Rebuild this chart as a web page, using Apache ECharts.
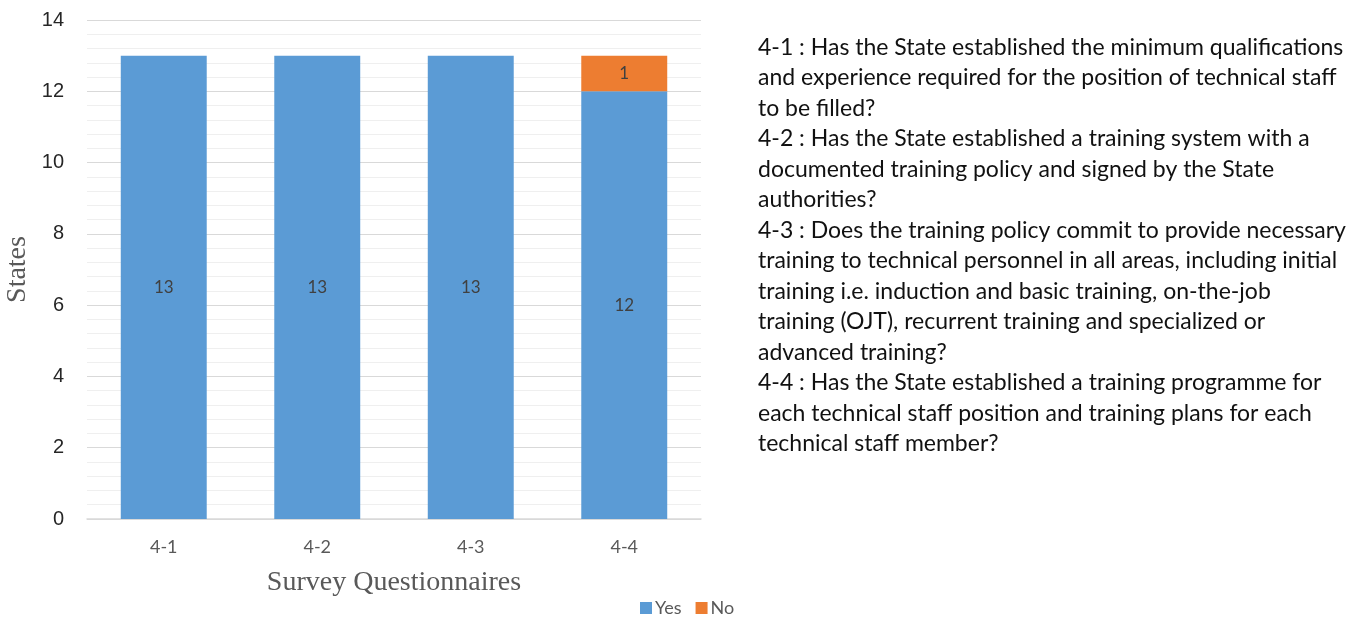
<!DOCTYPE html>
<html>
<head>
<meta charset="utf-8">
<script src="https://cdn.jsdelivr.net/npm/echarts@6/dist/echarts.min.js"></script>
<style>
  html, body { margin: 0; padding: 0; background: #fff; }
  #chart { width: 1362px; height: 619px; }
</style>
</head>
<body>
<div id="chart"></div>
<script>
// categories and counts
const questions = ['4-1', '4-2', '4-3', '4-4'];
const yesCounts = [13, 13, 13, 12];
const noCounts = [0, 0, 0, 1];

const notes = [
  '4-1 : Has the State established the minimum qualifications',
  'and experience required for the position of technical staff',
  'to be filled?',
  '4-2 : Has the State established a training system with a',
  'documented training policy and signed by the State',
  'authorities?',
  '4-3 : Does the training policy commit to provide necessary',
  'training to technical personnel in all areas, including initial',
  'training i.e. induction and basic training, on-the-job',
  'training (OJT), recurrent training and specialized or',
  'advanced training?',
  '4-4 : Has the State established a training programme for',
  'each technical staff position and training plans for each',
  'technical staff member?'
];

const chart = echarts.init(document.getElementById('chart'));

// hide the zero "No" labels
const barLabel = {
  show: true,
  position: 'inside',
  color: '#404040',
  fontSize: 17,
  fontFamily: 'Lato',
  formatter: p => (p.value ? p.value : '')
};

chart.setOption({
  animation: false,
  color: ['#5B9BD5', '#ED7D31'],
  grid: { left: 87, right: 661, top: 20, bottom: 100 },
  legend: {
    data: ['Yes', 'No'],
    left: 635,
    top: 594,
    itemWidth: 12,
    itemHeight: 12,
    itemGap: 14,
    icon: 'rect',
    textStyle: { color: '#595959', fontSize: 18, fontFamily: 'Lato', padding: [0, 0, 0, -2] }
  },
  xAxis: {
    type: 'category',
    data: questions,
    name: 'Survey Questionnaires',
    nameLocation: 'middle',
    nameGap: 50,
    nameTextStyle: { fontFamily: 'Liberation Serif', fontSize: 28, color: '#595959' },
    axisLine: { lineStyle: { color: '#d9d9d9', width: 1.5 } },
    axisTick: { show: false },
    axisLabel: { color: '#595959', fontSize: 18, fontFamily: 'Lato', margin: 19 }
  },
  yAxis: {
    type: 'value',
    min: 0,
    max: 14,
    interval: 2,
    name: 'States',
    nameLocation: 'middle',
    nameGap: 55,
    nameTextStyle: { fontFamily: 'Liberation Serif', fontSize: 28, color: '#595959' },
    axisLine: { show: false },
    axisTick: { show: false },
    axisLabel: { color: '#262626', fontSize: 20, fontFamily: 'Liberation Sans', margin: 23 },
    splitLine: { lineStyle: { color: '#d9d9d9', width: 1.2 } },
    minorTick: { show: false, splitNumber: 5 },
    minorSplitLine: { show: true, lineStyle: { color: '#efefef', width: 1 } }
  },
  series: [
    {
      name: 'Yes',
      type: 'bar',
      stack: 'total',
      data: yesCounts,
      barWidth: '56%',
      label: barLabel
    },
    {
      name: 'No',
      type: 'bar',
      stack: 'total',
      data: noCounts,
      barWidth: '56%',
      label: barLabel
    }
  ],
  graphic: [
    {
      type: 'text',
      left: 758,
      top: 32,
      style: {
        text: notes.join('\n'),
        fontFamily: 'Lato',
        fontSize: 23,
        lineHeight: 30.5,
        fill: '#111'
      }
    }
  ]
});
</script>
</body>
</html>
